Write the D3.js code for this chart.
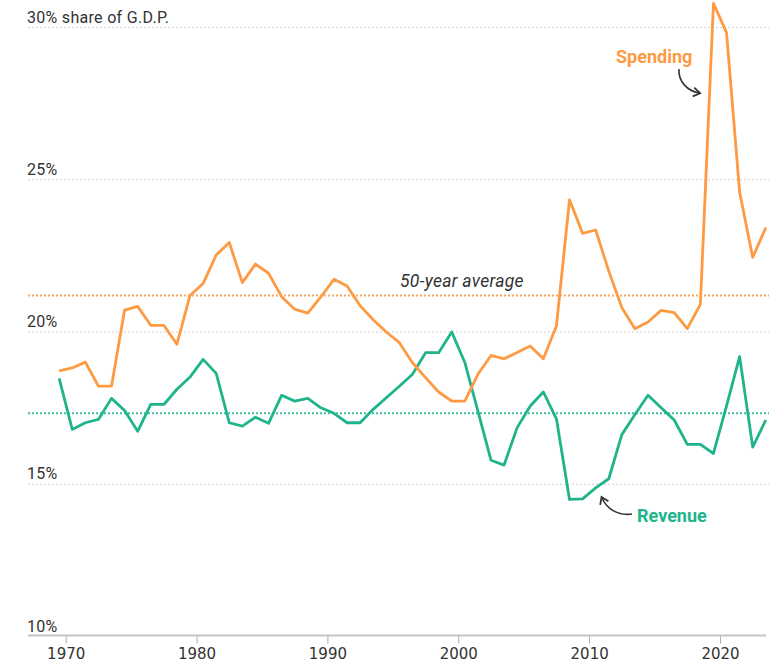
<!DOCTYPE html>
<html>
<head>
<meta charset="utf-8">
<script src="https://cdn.jsdelivr.net/npm/d3@7"></script>
<style>
  html, body { margin: 0; padding: 0; background: #fff; }
  svg { display: block; }
</style>
</head>
<body>
<svg id="chart" width="769" height="666"></svg>
<script>
// ---- Data (share of G.D.P., %) ----
const years = d3.range(1970, 2025);
const spending = [
  18.72, 18.82, 19.01, 18.22, 18.22, 20.72, 20.84, 20.22, 20.22, 19.60,
  21.20, 21.59, 22.53, 22.94, 21.62, 22.23, 21.93, 21.16, 20.75, 20.62,
  21.15, 21.73, 21.51, 20.86, 20.40, 20.00, 19.65, 18.99, 18.50, 18.03,
  17.73, 17.73, 18.61, 19.23, 19.12, 19.33, 19.54, 19.12, 20.20, 24.34,
  23.24, 23.35, 22.00, 20.80, 20.11, 20.33, 20.71, 20.64, 20.11, 20.91,
  30.79, 29.83, 24.59, 22.45, 23.43
];
const revenue = [
  18.48, 16.80, 17.02, 17.13, 17.82, 17.42, 16.74, 17.62, 17.62, 18.12,
  18.52, 19.10, 18.64, 17.02, 16.91, 17.20, 17.00, 17.92, 17.73, 17.82,
  17.51, 17.33, 17.02, 17.02, 17.46, 17.84, 18.22, 18.61, 19.32, 19.32,
  20.00, 19.00, 17.40, 15.79, 15.63, 16.86, 17.57, 18.03, 17.15, 14.50,
  14.52, 14.88, 15.18, 16.63, 17.29, 17.92, 17.51, 17.11, 16.31, 16.31,
  16.01, 17.57, 19.19, 16.22, 17.11
];
const averages = [
  { name: "spending", value: 21.2 },
  { name: "revenue", value: 17.33 }
];
const yTicks = [10, 15, 20, 25, 30];
const yTickLabels = ["10%", "15%", "20%", "25%", "30% share of G.D.P."];
const xTicks = [1970, 1980, 1990, 2000, 2010, 2020];

// ---- Styles ----
const ORANGE = "#fd9a43";
const TEAL = "#20b48c";
const TEXT = "#333";
const labelFont = "Roboto, 'Liberation Sans', sans-serif";

const svg = d3.select("#chart");
const W = 769;

const x = d3.scaleLinear().domain([1970, 2020]).range([65.7, 720]);
const y = d3.scaleLinear().domain([10, 30]).range([636.5, 27.5]);
// values are fiscal-year figures, plotted half a year before the tick
const xData = yr => x(yr - 0.5);

const left = 28;

// gridlines
svg.append("g").selectAll("line")
  .data(yTicks.filter(v => v > 10))
  .join("line")
  .attr("x1", left).attr("x2", W)
  .attr("y1", d => y(d)).attr("y2", d => y(d))
  .attr("stroke", "#cfcfcf")
  .attr("stroke-width", 1)
  .attr("stroke-dasharray", "2,2");

// y labels
svg.append("g").selectAll("text")
  .data(yTicks)
  .join("text")
  .attr("x", left - 1)
  .attr("y", d => y(d) - 5)
  .attr("font-family", labelFont)
  .attr("font-size", 16)
  .attr("letter-spacing", 0.3)
  .attr("fill", TEXT)
  .text((d, i) => yTickLabels[i]);

// average lines
svg.append("g").selectAll("line")
  .data(averages)
  .join("line")
  .attr("x1", left).attr("x2", W)
  .attr("y1", d => y(d.value)).attr("y2", d => y(d.value))
  .attr("stroke", d => d.name === "spending" ? ORANGE : TEAL)
  .attr("stroke-width", 2)
  .attr("stroke-dasharray", "2,2")
  .attr("opacity", 0.85);

svg.append("text")
  .attr("x", 400)
  .attr("y", y(21.2) - 8)
  .attr("font-family", labelFont)
  .attr("font-style", "italic")
  .attr("font-size", 17.5)
  .attr("letter-spacing", 0.3)
  .attr("fill", TEXT)
  .text("50-year average");

// x axis
const axisY = y(10) - 1;
svg.append("line")
  .attr("x1", left).attr("x2", 766)
  .attr("y1", axisY).attr("y2", axisY)
  .attr("stroke", "#c4c4c4")
  .attr("stroke-width", 2);

const xAxis = svg.append("g")
  .attr("transform", `translate(0,${axisY + 1})`)
  .call(d3.axisBottom(x).tickValues(xTicks).tickFormat(d3.format("d")).tickSize(7).tickPadding(5));
xAxis.select(".domain").remove();
xAxis.selectAll(".tick line").attr("stroke", "#aaa");
xAxis.selectAll(".tick text")
  .attr("font-family", "'DejaVu Sans', Verdana, sans-serif")
  .attr("font-size", 15)
  .attr("fill", TEXT);

// lines
const line = d3.line()
  .x((d, i) => xData(years[i]))
  .y(d => y(d));

svg.append("path")
  .datum(revenue)
  .attr("d", line)
  .attr("fill", "none")
  .attr("stroke", TEAL)
  .attr("stroke-width", 2.8)
  .attr("stroke-linejoin", "round");

svg.append("path")
  .datum(spending)
  .attr("d", line)
  .attr("fill", "none")
  .attr("stroke", ORANGE)
  .attr("stroke-width", 2.8)
  .attr("stroke-linejoin", "round");

// annotations
const defs = svg.append("defs");
defs.append("marker")
  .attr("id", "arrow")
  .attr("viewBox", "0 0 10 10")
  .attr("refX", 6).attr("refY", 5)
  .attr("markerWidth", 7).attr("markerHeight", 7)
  .attr("orient", "auto")
  .append("path")
  .attr("d", "M1,1 L7,5 L1,9")
  .attr("fill", "none")
  .attr("stroke", "#333")
  .attr("stroke-width", 1.6);

svg.append("text")
  .attr("x", 616).attr("y", 63)
  .attr("font-family", labelFont)
  .attr("font-weight", "bold")
  .attr("font-size", 18)
  .attr("fill", ORANGE)
  .text("Spending");

svg.append("path")
  .attr("d", "M679,69 C678,82 688,91 699,93")
  .attr("fill", "none")
  .attr("stroke", "#333")
  .attr("stroke-width", 1.6)
  .attr("marker-end", "url(#arrow)");

svg.append("text")
  .attr("x", 637).attr("y", 522)
  .attr("font-family", labelFont)
  .attr("font-weight", "bold")
  .attr("font-size", 18)
  .attr("fill", TEAL)
  .text("Revenue");

svg.append("path")
  .attr("d", "M632,514 C618,516 607,509 602,498")
  .attr("fill", "none")
  .attr("stroke", "#333")
  .attr("stroke-width", 1.6)
  .attr("marker-end", "url(#arrow)");
</script>
</body>
</html>
